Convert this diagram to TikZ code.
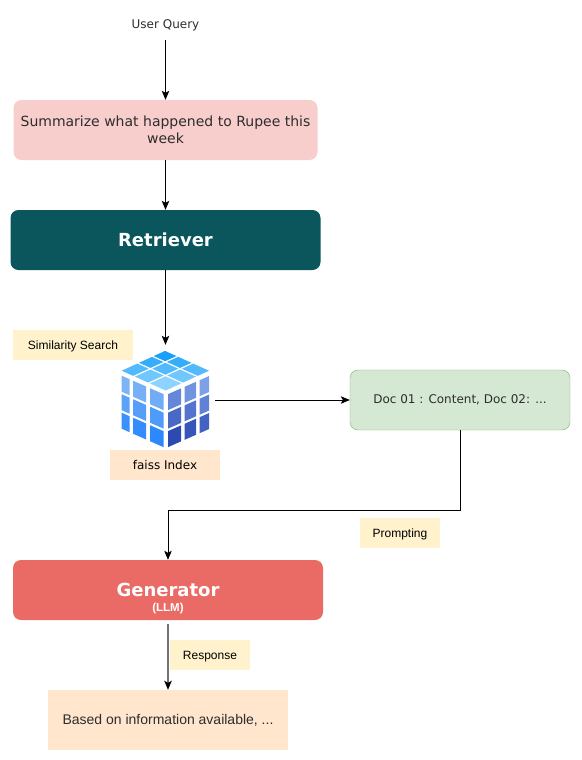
\documentclass[tikz,border=0pt]{standalone}
\usepackage{xcolor}
\usepackage{fontspec}
\setmainfont{DejaVu Sans}
\newfontfamily\arialfont{Liberation Sans}
\usetikzlibrary{arrows.meta, positioning}
\definecolor{myred}{RGB}{248,206,204}
\definecolor{myteal}{RGB}{11,85,92}
\definecolor{mycoral}{RGB}{234,107,102}
\definecolor{mygreen}{RGB}{213,232,212}
\definecolor{mygreenline}{RGB}{130,179,102}
\definecolor{mypeach}{RGB}{255,230,204}
\definecolor{myyellow}{RGB}{255,242,204}
\definecolor{mydark}{RGB}{45,45,45}
\definecolor{topfar}{RGB}{24,160,250}
\definecolor{topnear}{RGB}{140,212,255}
\definecolor{lefthi}{RGB}{125,180,245}
\definecolor{leftlo}{RGB}{30,128,255}
\definecolor{righthi}{RGB}{125,160,232}
\definecolor{rightlo}{RGB}{27,58,168}
\tikzset{
  bigblock/.style={rectangle, rounded corners=8pt, minimum width=310pt,
    minimum height=60pt, inner sep=0pt, align=center, text=white},
  tagbox/.style={rectangle, fill=myyellow, minimum height=30pt, inner sep=0pt,
    align=center, font=\fontsize{12}{14}\arialfont, text=black,
    text height=9pt, text depth=1pt},
  arrow/.style={-{Stealth[length=9pt, width=7.5pt, inset=2pt, color=black]}, line width=1pt, color=black}
}
\begin{document}
\begin{tikzpicture}[x=1pt, y=-1pt]
  \useasboundingbox (0,0) rectangle (581,760);

  % Main column
  \node (query) at (165.5,25) [minimum height=30pt, inner sep=0pt, font=\fontsize{12}{14}\selectfont, text=mydark] {User Query};
  \node (summary) at (165.5,130) [bigblock, fill=myred, minimum width=304pt, text=mydark, font=\fontsize{14}{17}\selectfont] {Summarize what happened to Rupee this\\week};
  \node (retriever) at (165.5,240) [bigblock, fill=myteal, font=\fontsize{18}{22}\bfseries] {Retriever};
  \node (simsearch) at (73,345) [tagbox, minimum width=120pt] {Similarity Search};
  \node (cube) at (165.5,400) [minimum width=99pt, minimum height=110pt, inner sep=0pt] {};
  \node (faiss) at (165,465) [tagbox, fill=mypeach, minimum width=110pt, font=\fontsize{12}{14}\selectfont] {faiss Index};
  \node (doc) at (460,400) [rectangle, rounded corners=8pt, draw=mygreenline, fill=mygreen, minimum width=220pt, minimum height=60pt, inner sep=0pt, font=\fontsize{12}{14}\selectfont, text=mydark] {Doc 01 : Content, Doc 02: ...};
  \node (prompting) at (400,533) [tagbox, minimum width=80pt] {Prompting};
  \node (generator) at (168,590) [bigblock, fill=mycoral, font=\fontsize{18}{22}\bfseries] {Generator};
  \node (llm) at (168,608.5) [inner sep=0pt, text=white, font=\fontsize{11.5}{13}\bfseries\arialfont] {(LLM)};
  \node (response) at (210,655) [tagbox, minimum width=80pt] {Response};
  \node (answer) at (168,720) [rectangle, fill=mypeach, minimum width=240pt, minimum height=60pt, inner sep=0pt, font=\fontsize{14}{17}\arialfont, text=mydark] {Based on information available, ...};
  \coordinate (turn) at (460,510);
  \coordinate (drop) at (168,510);

  % Connectors
  \draw[arrow] (query.south) -- (summary.north);
  \draw[arrow] (summary.south) -- (retriever.north);
  \draw[arrow] (retriever.south) -- (cube.north);
  \draw[arrow] (cube.east) -- (doc.west);
  \draw[arrow] (doc.south) -- (turn) -- (drop) -- (generator.north);
  \draw[arrow, shorten <=4pt, color=black!55, line width=1.6pt] (generator.south) -- (answer.north);

  % Cube, top face
  \foreach \a/\ao/\ap in {0/0/.36, 1/.40/.70, 2/.74/1} {
    \foreach \b/\bo/\bp in {0/0/.36, 1/.40/.70, 2/.74/1} {
      \pgfmathtruncatemacro{\mixtop}{100-(\a+\b)*25}
      \fill[topnear!\mixtop!topfar]
        ({165.7+\bo*43.3-\ao*44},{390.5-(\bo+\ao)*19.8})
        -- ({165.7+\bp*43.3-\ao*44},{390.5-(\bp+\ao)*19.8})
        -- ({165.7+\bp*43.3-\ap*44},{390.5-(\bp+\ap)*19.8})
        -- ({165.7+\bo*43.3-\ap*44},{390.5-(\bo+\ap)*19.8}) -- cycle;
    }
  }

  % Cube, side faces
  \foreach \a/\xo/\xp/\xq/\xr in {0/163.5/150/168/181, 1/146/133/184.5/196, 2/129.5/121.7/199.5/209} {
    \foreach \b/\yo in {0/0, 1/18.5, 2/37} {
      \pgfmathtruncatemacro{\mixleft}{100-\b*35-(2-\a)*7}
      \pgfmathtruncatemacro{\mixright}{100-\b*30-(2-\a)*12}
      \fill[lefthi!\mixleft!leftlo]
        (\xo,{395-(165.5-\xo)*.44+\yo}) -- (\xp,{395-(165.5-\xp)*.44+\yo})
        -- (\xp,{411-(165.5-\xp)*.44+\yo}) -- (\xo,{411-(165.5-\xo)*.44+\yo}) -- cycle;
      \fill[righthi!\mixright!rightlo]
        (\xq,{395-(\xq-166)*.44+\yo}) -- (\xr,{395-(\xr-166)*.44+\yo})
        -- (\xr,{411-(\xr-166)*.44+\yo}) -- (\xq,{411-(\xq-166)*.44+\yo}) -- cycle;
    }
  }
\end{tikzpicture}
\end{document}
